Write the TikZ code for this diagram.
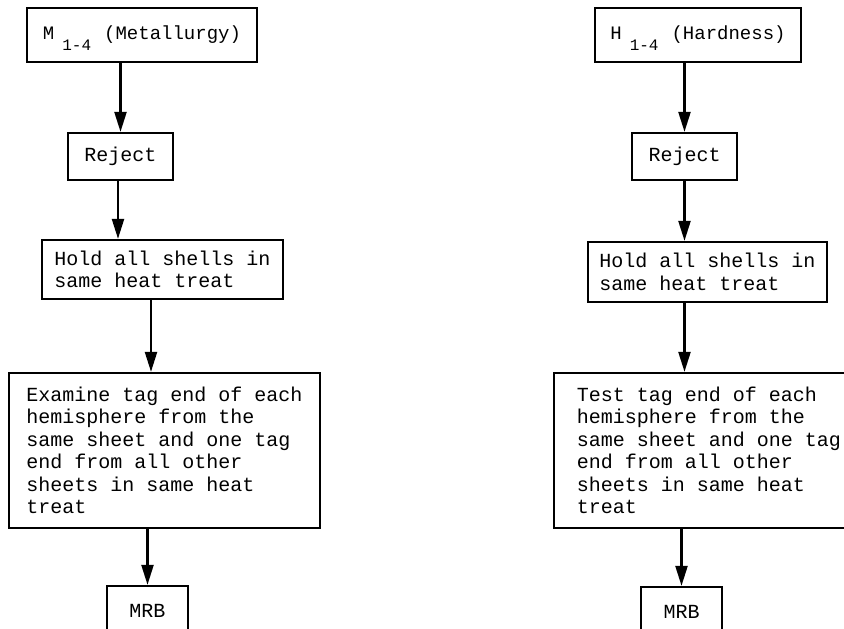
\documentclass[tikz,border=0pt]{standalone}
\usepackage{fontspec}
\usetikzlibrary{arrows.meta}
\newfontfamily\tw{Liberation Mono}
\newcommand{\bodyfont}{\tw\fontsize{20}{22.5}\selectfont}
\newcommand{\headfont}{\tw\fontsize{19}{22.5}\selectfont}
\newcommand{\subidx}[1]{\raisebox{-11pt}[0pt][0pt]{\fontsize{16}{16}\selectfont #1}}
\tikzset{
  box/.style={draw, rectangle, line width=2.3pt, inner sep=0pt, align=left, font=\bodyfont},
  arr/.style={line width=2.3pt, -{Triangle[length=20pt,width=12pt]}},
}
\begin{document}
\begin{tikzpicture}[x=1pt, y=-1pt]
\useasboundingbox (0,0) rectangle (844,629);

% left column: metallurgy
\node[box, font=\headfont, minimum width=230pt, minimum height=54pt] (met) at (142,35)
  {M\hspace{8pt}\subidx{1-4}\hspace{13pt}(Metallurgy)};
\node[box, minimum width=105pt, minimum height=47pt] (rejL) at (120.5,156.5) {Reject};
\node[box, minimum width=241pt, minimum height=59pt] (holdL) at (162.5,269.5)
  {Hold all shells in\\same heat treat};
\node[box, minimum width=311pt, minimum height=155pt] (exam) at (164.5,450.5)
  {Examine tag end of each\\hemisphere from the\\same sheet and one tag\\end from all other\\sheets in same heat\\treat};
\node[box, minimum width=81pt, minimum height=50pt] (mrbL) at (147.5,611) {MRB};

% right column: hardness
\node[box, font=\headfont, minimum width=206pt, minimum height=54pt] (hard) at (698,35)
  {H\hspace{8pt}\subidx{1-4}\hspace{13pt}(Hardness)};
\node[box, minimum width=105pt, minimum height=47pt] (rejR) at (684.5,156.5) {Reject};
\node[box, minimum width=239pt, minimum height=60pt] (holdR) at (707.5,272)
  {Hold all shells in\\same heat treat};
\node[box, minimum width=310pt, minimum height=155pt] (test) at (709,450.5)
  {Test tag end of each\\hemisphere from the\\same sheet and one tag\\end from all other\\sheets in same heat\\treat};
\node[box, minimum width=81pt, minimum height=50pt] (mrbR) at (681.5,612) {MRB};

% connector start points
\coordinate (l1) at (met.south -| rejL.north);
\coordinate (l2) at ([xshift=-2.5pt]rejL.south);
\coordinate (l3) at ([xshift=-11.5pt]holdL.south);
\coordinate (l4) at (exam.south -| mrbL.north);
\coordinate (r1) at (hard.south -| rejR.north);
\coordinate (r2) at (rejR.south);
\coordinate (r3) at (holdR.south -| rejR.south);
\coordinate (r4) at (test.south -| mrbR.north);

\draw[arr] (l1) -- (rejL.north);
\draw[arr] (l2) -- (l2 |- holdL.north);
\draw[arr] (l3) -- (l3 |- exam.north);
\draw[arr] (l4) -- (mrbL.north);

\draw[arr] (r1) -- (rejR.north);
\draw[arr] (r2) -- (r2 |- holdR.north);
\draw[arr] (r3) -- (r3 |- test.north);
\draw[arr] (r4) -- (mrbR.north);
\end{tikzpicture}
\end{document}
